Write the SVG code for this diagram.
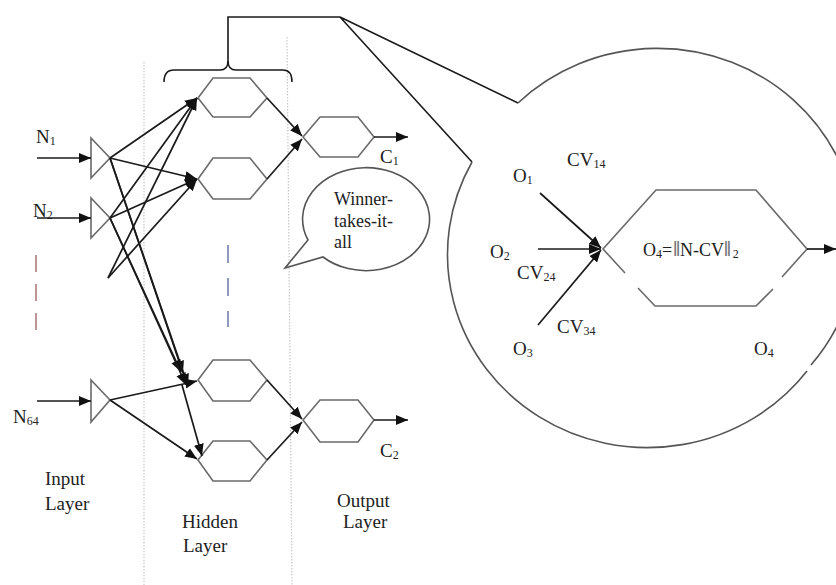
<svg xmlns="http://www.w3.org/2000/svg" width="836" height="585" viewBox="0 0 836 585">
  <style>
    .hex { fill: none; stroke: #6a6a6a; stroke-width: 1.6; stroke-linejoin: miter; }
    .tri { fill: #fff; stroke: #6a6a6a; stroke-width: 1.6; }
    .wire { fill: none; stroke: #1a1a1a; stroke-width: 1.6; }
    .arr { fill: none; stroke: #1a1a1a; stroke-width: 1.7; marker-end: url(#head); }
    .sep { stroke: #c8c8c8; stroke-width: 1.2; stroke-dasharray: 1.5 1.5; }
    .lbl { font-family: "Liberation Serif", "Times New Roman", serif; font-size: 19px; fill: #222; }
    .sub { font-size: 12px; }
    .bar { fill: #7a7a7a; font-weight: bold; font-size: 21px; }
    .outline { fill: none; stroke: #555; stroke-width: 1.6; }
  </style>
  <defs>
    <marker id="head" markerUnits="userSpaceOnUse" markerWidth="14" markerHeight="12" refX="12" refY="6" orient="auto">
      <path d="M0,1 L12,6 L0,11 z" fill="#111"/>
    </marker>
  </defs>
  <rect width="836" height="585" fill="#fff"/>

  <!-- layer separators -->
  <g id="separators">
    <line class="sep" x1="144" y1="62" x2="144" y2="585"/>
    <line class="sep" x1="287" y1="37" x2="292" y2="585"/>
  </g>

  <!-- ellipsis marks for omitted units -->
  <g id="ellipsis">
    <line x1="36" y1="255" x2="36" y2="335" stroke="#b07c7c" stroke-width="1.6" stroke-dasharray="17 12"/>
    <line x1="228" y1="245" x2="228" y2="327" stroke="#7480b0" stroke-width="1.6" stroke-dasharray="18 15"/>
  </g>

  <!-- input units -->
  <g id="input-1"><polygon class="tri" points="91,138 91,178 110,158"/></g>
  <g id="input-2"><polygon class="tri" points="91,198 91,238 110,218"/></g>
  <g id="input-64"><polygon class="tri" points="91,380 91,422 110,400"/></g>

  <!-- hidden units -->
  <g id="hidden-1"><polygon class="hex" points="198,98 213,78 250,78 267,98 250,117 213,117"/></g>
  <g id="hidden-2"><polygon class="hex" points="198,179 213,158 250,158 267,179 250,199 213,199"/></g>
  <g id="hidden-3"><polygon class="hex" points="198,380 213,360 250,360 267,380 250,401 213,401"/></g>
  <g id="hidden-4"><polygon class="hex" points="198,460 213,441 250,441 267,460 250,481 213,481"/></g>

  <!-- output units -->
  <g id="output-1"><polygon class="hex" points="303,137 320,117 358,117 374,137 358,157 320,157"/></g>
  <g id="output-2"><polygon class="hex" points="303,420 320,400 358,400 374,420 358,442 320,442"/></g>

  <!-- connectors -->
  <g id="connectors">
    <line class="arr" x1="37" y1="158" x2="91" y2="158"/>
    <line class="arr" x1="37" y1="218" x2="91" y2="218"/>
    <line class="arr" x1="37" y1="401" x2="91" y2="401"/>

    <line class="arr" x1="110" y1="158" x2="197" y2="98"/>
    <line class="arr" x1="110" y1="158" x2="197" y2="179"/>
    <line class="arr" x1="110" y1="218" x2="197" y2="98"/>
    <line class="arr" x1="110" y1="218" x2="197" y2="179"/>
    <line class="arr" x1="108" y1="278" x2="197" y2="98"/>
    <line class="arr" x1="108" y1="278" x2="197" y2="179"/>

    <line class="arr" x1="110" y1="158" x2="183" y2="373"/>
    <line class="arr" x1="110" y1="158" x2="188" y2="386"/>
    <line class="arr" x1="110" y1="218" x2="181" y2="372"/>
    <line class="arr" x1="110" y1="218" x2="186" y2="385"/>
    <line class="arr" x1="110" y1="400" x2="197" y2="381"/>
    <line class="arr" x1="110" y1="400" x2="197" y2="459"/>
    <line class="arr" x1="182" y1="385" x2="202" y2="456"/>

    <line class="arr" x1="267" y1="98" x2="302" y2="136"/>
    <line class="arr" x1="267" y1="179" x2="302" y2="139"/>
    <line class="arr" x1="267" y1="380" x2="302" y2="419"/>
    <line class="arr" x1="267" y1="460" x2="302" y2="422"/>

    <line class="arr" x1="374" y1="137" x2="408" y2="137"/>
    <line class="arr" x1="374" y1="420" x2="408" y2="420"/>
  </g>

  <!-- brace over the hidden layer and the zoom callout -->
  <g id="callout">
    <path class="wire" d="M164,82 Q164,70 174,70 L220,70 Q228,70 228,61 Q228,70 236,70 L283,70 Q292,70 292,82"/>
    <polyline class="wire" points="228,62 228,17 340,17"/>
    <polyline class="wire" points="472,162 340,17 518,103"/>
    <path class="outline" d="M518,103 A200,193 0 0 1 811,365"/>
    <path class="outline" d="M807,371 A200,193 0 0 1 472,162"/>
  </g>

  <!-- enlarged unit -->
  <g id="detail-unit">
    <polyline class="hex" points="625,273 603,249 656,190 756,190 807,249 782,277"/>
    <polyline class="hex" points="638,288 655,306 756,306 773,289"/>
    <line class="arr" x1="540" y1="193" x2="601" y2="248"/>
    <line class="arr" x1="538" y1="249" x2="601" y2="249"/>
    <line class="arr" x1="538" y1="325" x2="601" y2="250"/>
    <line class="arr" x1="807" y1="249" x2="836" y2="249"/>
  </g>

  <!-- speech bubble -->
  <g id="bubble">
    <path class="outline" d="M308,240 A63.5,51.5 0 1 1 323,257 L285,268 Z"/>
    <text class="lbl" x="334" y="205" style="font-size:18px">Winner-</text>
    <text class="lbl" x="334" y="227" style="font-size:18px">takes-it-</text>
    <text class="lbl" x="334" y="248" style="font-size:18px">all</text>
  </g>

  <!-- labels -->
  <g id="labels">
    <text class="lbl" x="36" y="143">N<tspan class="sub" dy="2">1</tspan></text>
    <text class="lbl" x="33" y="217">N<tspan class="sub" dy="2">2</tspan></text>
    <text class="lbl" x="13" y="423">N<tspan class="sub" dy="2">64</tspan></text>
    <text class="lbl" x="380" y="163">C<tspan class="sub" dy="2">1</tspan></text>
    <text class="lbl" x="380" y="457">C<tspan class="sub" dy="2">2</tspan></text>

    <text class="lbl" x="45" y="485">Input</text>
    <text class="lbl" x="45" y="510">Layer</text>
    <text class="lbl" x="182" y="528">Hidden</text>
    <text class="lbl" x="183" y="552">Layer</text>
    <text class="lbl" x="337" y="507">Output</text>
    <text class="lbl" x="343" y="528">Layer</text>

    <text class="lbl" x="513" y="182">O<tspan class="sub" dy="2">1</tspan></text>
    <text class="lbl" x="567" y="166">CV<tspan class="sub" dy="2">14</tspan></text>
    <text class="lbl" x="490" y="258">O<tspan class="sub" dy="2">2</tspan></text>
    <text class="lbl" x="517" y="279">CV<tspan class="sub" dy="2">24</tspan></text>
    <text class="lbl" x="557" y="333">CV<tspan class="sub" dy="2">34</tspan></text>
    <text class="lbl" x="513" y="355">O<tspan class="sub" dy="2">3</tspan></text>
    <text class="lbl" x="754" y="355">O<tspan class="sub" dy="2">4</tspan></text>
    <text class="lbl" x="643" y="256" style="font-size:18px">O<tspan class="sub" dy="2">4</tspan><tspan dy="-2">=</tspan><tspan class="bar" dx="1">‖</tspan>N-CV<tspan class="bar">‖</tspan><tspan class="sub" dy="2" dx="2">2</tspan></text>
  </g>
</svg>
